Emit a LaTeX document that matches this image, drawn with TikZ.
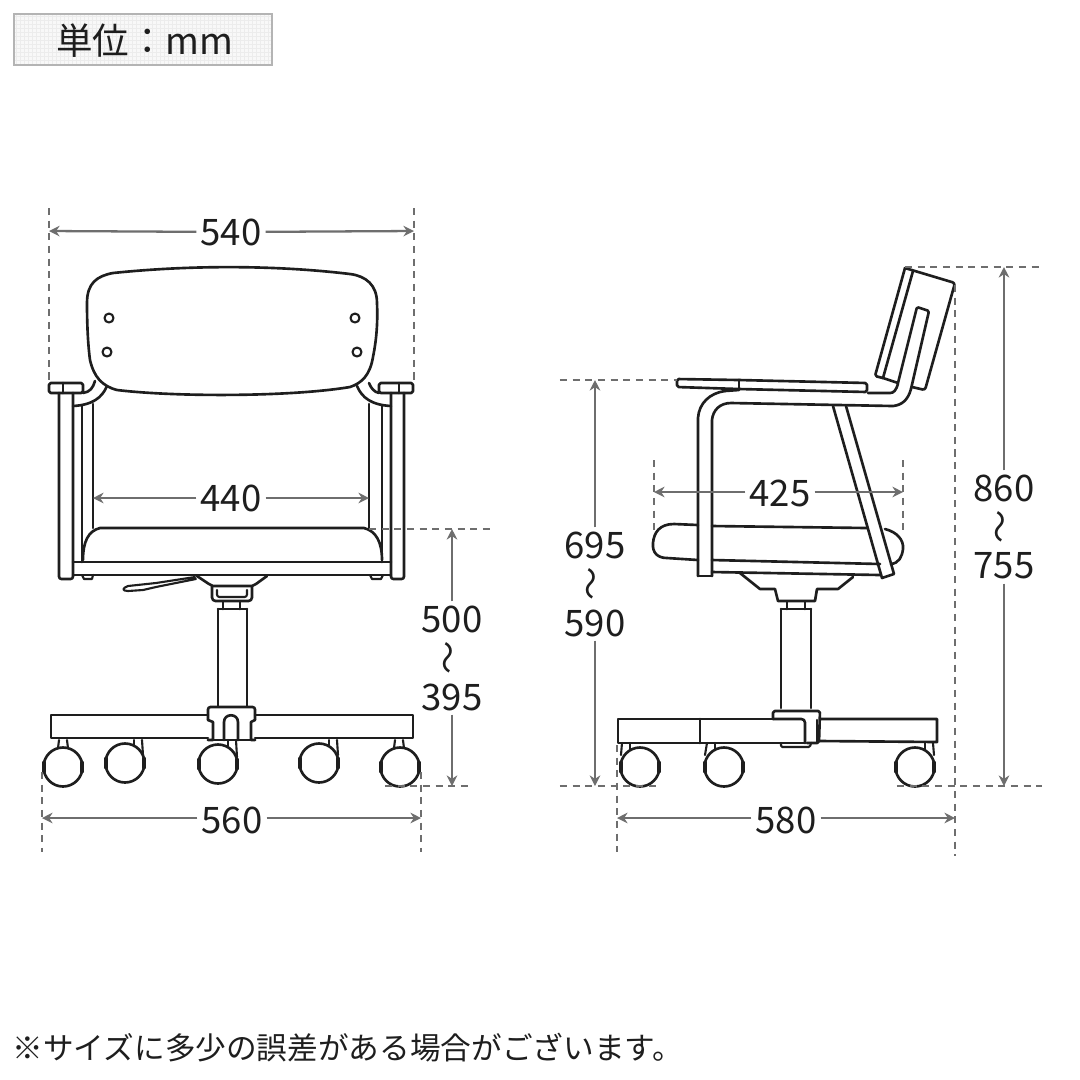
\documentclass[tikz,border=0pt]{standalone}
\usepackage{fontspec}
\setmainfont{Noto Sans CJK JP}
\usetikzlibrary{arrows.meta}
\definecolor{ink}{HTML}{1E1E1E}
\definecolor{dimgray}{HTML}{6E6E6E}
\definecolor{boxline}{HTML}{B4B4B4}
\definecolor{boxfill}{HTML}{F8F8F8}
\definecolor{boxgrid}{HTML}{ECECEC}
\tikzset{
  chair/.style={draw=ink, line width=0.75pt, line join=round, line cap=round},
  thin chair/.style={draw=ink, line width=0.6pt, line join=round, line cap=round},
  tyre/.style={draw=ink, line width=1.4pt, line cap=round},
  dimline/.style={draw=dimgray, line width=0.65pt, -{Stealth[length=3pt,width=3pt]}},
  guide/.style={draw=dimgray, line width=0.55pt, dash pattern=on 2pt off 1.6pt},
  dimlab/.style={text=ink, font=\fontsize{10.4}{12}\selectfont, inner sep=1pt},
  wavelab/.style={text=ink, font=\fontsize{9.5}{11}\selectfont, inner sep=0pt, rotate=90}
}
\begin{document}
\begin{tikzpicture}[x=0.1mm,y=-0.1mm]
  \fill[white] (0,0) rectangle (1080,1080);
  \useasboundingbox (0,0) rectangle (1080,1080);

  % Unit box
  \fill[boxfill] (14,14) rectangle (272,65);
  \draw[boxgrid, line width=0.15pt, step=0.4mm] (14,14) grid (272,65);
  \draw[boxline, line width=0.7pt] (14,14) rectangle (272,65);
  \node[text=ink, font=\fontsize{10.4}{12}\selectfont, inner sep=0pt] (unitlab) at (145,41) {単位：mm};

  % Front view, back
  \draw[chair] (87,303) .. controls (87,283) and (97,276) .. (113,273)
    .. controls (190,265) and (275,265) .. (350,274)
    .. controls (366,276) and (377,285) .. (377,303)
    .. controls (378,325) and (376,342) .. (373,357)
    .. controls (370,375) and (362,383) .. (350,387)
    .. controls (290,397) and (175,397) .. (117,390)
    .. controls (102,386) and (94,377) .. (90,360)
    .. controls (88,345) and (87,325) .. (87,303) -- cycle;
  \draw[thin chair] (109,318) circle (4.5);
  \draw[thin chair] (107,352) circle (4.5);
  \draw[thin chair] (355,318) circle (4.5);
  \draw[thin chair] (357,352) circle (4.5);

  % Front view, arms and legs
  \draw[chair, rounded corners=0.5] (49,383) rectangle (83,393);
  \draw[chair] (63,383) -- (63,393);
  \draw[chair, rounded corners=0.5] (379,383) rectangle (413,393);
  \draw[chair] (399,383) -- (399,393);
  \draw[chair, rounded corners=0.7] (59,393) -- (59,579) -- (73,579) -- (73,393);
  \draw[chair, rounded corners=0.7] (391,393) -- (391,579) -- (404,579) -- (404,393);
  \draw[chair] (95,381) .. controls (93,388) and (90,392) .. (83,393);
  \draw[chair] (107,386) .. controls (102,398) and (92,405) .. (73,406);
  \draw[chair] (369,383) .. controls (371,388) and (374,392) .. (379,393);
  \draw[chair] (357,386) .. controls (362,398) and (372,405) .. (391,406);
  \draw[chair] (82,406) -- (82,562);
  \draw[chair] (93,404) -- (93,528);
  \draw[chair] (369,404) -- (369,528);
  \draw[chair] (382,406) -- (382,562);

  % Front view, seat
  \draw[chair] (83,560) .. controls (83,542) and (88,531) .. (100,528) -- (364,528)
    .. controls (376,531) and (382,542) .. (382,560);
  \draw[chair] (73,562) -- (391,562);
  \draw[chair] (73,575) -- (391,575);
  \draw[thin chair] (82,575) -- (84,579) -- (92,579) -- (93,575);
  \draw[thin chair] (370,575) -- (372,579) -- (381,579) -- (383,575);

  % Front view, lever and mechanism
  \draw[thin chair] (195,577) -- (156,583) -- (128,586) .. controls (122,588) and (122,591) .. (128,591)
    -- (143,590) -- (156,587) -- (196,579);
  \draw[chair] (197,576) -- (209,584) -- (213,586) -- (252,586) -- (256,584) -- (267,576);
  \draw[chair, rounded corners=1] (212,586) -- (212,601) -- (252,601) -- (252,586);
  \draw[thin chair, rounded corners=0.7] (217,590) -- (217,597) -- (247,597) -- (247,590);
  \draw[chair] (223,602) -- (223,609);
  \draw[chair] (240,602) -- (240,609);
  \draw[chair] (218,609) -- (247,609);
  \draw[chair] (218,609) -- (218,706);
  \draw[chair] (247,609) -- (247,706);

  % Front view, base
  \draw[chair] (208,715) -- (51,715) -- (51,738) -- (208,738);
  \draw[chair] (255,715) -- (413,715) -- (413,738) -- (255,738);
  \draw[chair, rounded corners=0.7] (208,720) -- (208,707) -- (255,707) -- (255,720);
  \draw[chair] (208,720) -- (213,722) -- (213,740) -- (208,740);
  \draw[chair] (255,720) -- (251,722) -- (251,740) -- (255,740);
  \draw[chair] (208,740) -- (255,740);
  \draw[chair] (224,740) -- (224,722) .. controls (224,713) and (238,713) .. (238,722) -- (238,740);

  % Front view, casters
  \draw[thin chair] (59,740) -- (58,748);
  \draw[thin chair] (67,740) -- (68,748);
  \draw[thin chair] (134,740) -- (134,746);
  \draw[thin chair] (142,740) -- (143,755);
  \draw[thin chair] (228,740) -- (228,746);
  \draw[thin chair] (236,740) -- (237,757);
  \draw[thin chair] (329,740) -- (329,746);
  \draw[thin chair] (337,740) -- (338,755);
  \draw[thin chair] (395,740) -- (394,748);
  \draw[thin chair] (403,740) -- (404,748);
  \draw[chair] (63,767) circle (19.5);
  \draw[chair] (125,763) circle (19.5);
  \draw[chair] (218,764) circle (19.5);
  \draw[chair] (319,763) circle (19.5);
  \draw[chair] (400,767) circle (19.5);
  \draw[tyre] (44,763) -- (44,771);
  \draw[tyre] (82,763) -- (82,771);
  \draw[tyre] (106,759) -- (106,767);
  \draw[tyre] (144,759) -- (144,767);
  \draw[tyre] (199,760) -- (199,768);
  \draw[tyre] (237,760) -- (237,768);
  \draw[tyre] (300,759) -- (300,767);
  \draw[tyre] (338,759) -- (338,767);
  \draw[tyre] (381,763) -- (381,771);
  \draw[tyre] (419,763) -- (419,771);

  % Side view, back
  \draw[chair, rounded corners=0.7] (905,268) -- (955,283) -- (925,390) -- (912,387);
  \draw[chair, rounded corners=0.5] (905,268) -- (875,376) -- (883,378);
  \draw[chair] (913,271) -- (883,378) -- (898,383);
  \draw[chair, rounded corners=0.4] (898,383) -- (917,307) -- (929,311) -- (911,389);

  % Side view, arm and tube
  \draw[chair, rounded corners=0.5] (739,380) -- (677,379) -- (677,387) -- (739,389);
  \draw[chair] (739,380) -- (739,389);
  \draw[chair, rounded corners=0.5] (739,380) -- (867,383) -- (867,392) -- (739,389);
  \draw[chair] (698,576) -- (698,418) .. controls (699,403) and (710,393) .. (725,391);
  \draw[chair] (725,391) -- (739,390);
  \draw[chair] (868,393) -- (890,393) .. controls (894,393) and (896,390) .. (898,384);
  \draw[chair] (712,576) -- (712,420) .. controls (713,410) and (720,403) .. (731,403)
    -- (893,406) .. controls (902,405) and (908,400) .. (911,389);
  \draw[chair] (698,576) -- (712,576);

  % Side view, strut
  \draw[chair] (833,406) -- (882,578) -- (894,574) -- (846,406);

  % Side view, seat
  \draw[chair] (698,525) -- (674,524) .. controls (660,524) and (654,532) .. (653,543)
    .. controls (652,553) and (658,558) .. (667,558) -- (698,560);
  \draw[chair] (712,526) -- (867,528);
  \draw[chair] (712,560) -- (880,564);
  \draw[chair] (712,572) -- (880,575);
  \draw[chair] (885,529) .. controls (897,532) and (904,540) .. (903,549)
    .. controls (902,557) and (899,563) .. (891,564);

  % Side view, mechanism and column
  \draw[chair] (740,573) -- (760,589) -- (775,589) -- (778,601) -- (815,601) -- (817,589)
    -- (838,589) -- (853,577);
  \draw[chair] (787,602) -- (787,609);
  \draw[chair] (805,602) -- (805,609);
  \draw[chair] (781,609) -- (811,609);
  \draw[chair] (781,609) -- (781,708);
  \draw[chair] (811,609) -- (811,708);

  % Side view, base
  \draw[chair] (773,719) -- (618,719) -- (618,743) -- (773,743);
  \draw[chair] (700,719) -- (700,743);
  \draw[chair] (820,719) -- (937,719) -- (937,742) -- (820,741);
  \draw[chair, rounded corners=0.5] (773,719) -- (773,711) -- (820,711) -- (819,743) -- (807,743);
  \draw[chair, rounded corners=1] (773,719) -- (805,719) -- (805,743);
  \draw[chair] (817,720) -- (817,742);
  \draw[chair] (773,743) -- (805,743);
  \draw[thin chair, rounded corners=0.4] (781,743) -- (781,747) -- (810,747) -- (811,743);

  % Side view, casters
  \draw[thin chair] (622,743) -- (621,755);
  \draw[thin chair] (630,743) -- (630,750);
  \draw[thin chair] (707,743) -- (705,755);
  \draw[thin chair] (715,743) -- (715,750);
  \draw[thin chair] (925,743) -- (925,750);
  \draw[thin chair] (933,743) -- (934,755);
  \draw[chair] (640,767) circle (19.5);
  \draw[chair] (724,767) circle (19.5);
  \draw[chair] (915,767) circle (19.5);
  \draw[tyre] (621,763) -- (621,771);
  \draw[tyre] (659,763) -- (659,771);
  \draw[tyre] (705,763) -- (705,771);
  \draw[tyre] (743,763) -- (743,771);
  \draw[tyre] (896,763) -- (896,771);
  \draw[tyre] (934,763) -- (934,771);

  % Guides
  \draw[guide] (49,208) -- (49,383);
  \draw[guide] (414,208) -- (414,383);
  \draw[guide] (369,529) -- (495,529);
  \draw[guide] (385,786) -- (468,786);
  \draw[guide] (42,772) -- (42,852);
  \draw[guide] (421,772) -- (421,852);
  \draw[guide] (560,380) -- (677,380);
  \draw[guide] (560,786) -- (658,786);
  \draw[guide] (897,786) -- (1042,786);
  \draw[guide] (905,267) -- (1042,267);
  \draw[guide] (654,460) -- (654,535);
  \draw[guide] (903,460) -- (903,535);
  \draw[guide] (617,745) -- (617,852);
  \draw[guide] (955,285) -- (955,856);

  % Front dimensions
  \node[dimlab] (w540) at (231,232) {540};
  \coordinate (w540l) at (49,231);
  \coordinate (w540r) at (414,231);
  \draw[dimline] (w540) -- (w540l);
  \draw[dimline] (w540) -- (w540r);

  \node[dimlab] (w440) at (231,498) {440};
  \coordinate (w440l) at (93,498);
  \coordinate (w440r) at (369,498);
  \draw[dimline] (w440) -- (w440l);
  \draw[dimline] (w440) -- (w440r);

  \node[dimlab] (w560) at (232,820) {560};
  \coordinate (w560l) at (42,818);
  \coordinate (w560r) at (421,818);
  \draw[dimline] (w560.west |- w560l) -- (w560l);
  \draw[dimline] (w560.east |- w560r) -- (w560r);

  \node[dimlab] (h500) at (452,619) {500};
  \node[wavelab] (h500w) at (452,658) {〜};
  \node[dimlab] (h395) at (452,697) {395};
  \coordinate (h500t) at (452,529);
  \coordinate (h395b) at (452,786);
  \draw[dimline] (h500) -- (h500t);
  \draw[dimline] (h395) -- (h395b);

  % Side dimensions
  \node[dimlab] (w425) at (780,493) {425};
  \coordinate (w425l) at (654,492);
  \coordinate (w425r) at (903,492);
  \draw[dimline] (w425.west |- w425l) -- (w425l);
  \draw[dimline] (w425.east |- w425r) -- (w425r);

  \node[dimlab] (w580) at (786,820) {580};
  \coordinate (w580l) at (617,818);
  \coordinate (w580r) at (955,818);
  \draw[dimline] (w580.west |- w580l) -- (w580l);
  \draw[dimline] (w580.east |- w580r) -- (w580r);

  \node[dimlab] (h695) at (595,545) {695};
  \node[wavelab] (h695w) at (595,584) {〜};
  \node[dimlab] (h590) at (595,623) {590};
  \coordinate (h695t) at (595,380);
  \coordinate (h590b) at (595,786);
  \draw[dimline] (h695) -- (h695t);
  \draw[dimline] (h590) -- (h590b);

  \node[dimlab] (h860) at (1004,488) {860};
  \node[wavelab] (h860w) at (1004,527) {〜};
  \node[dimlab] (h755) at (1004,566) {755};
  \coordinate (h860t) at (1004,267);
  \coordinate (h755b) at (1004,786);
  \draw[dimline] (h860) -- (h860t);
  \draw[dimline] (h755) -- (h755b);

  % Note
  \node[text=ink, font=\fontsize{8.72}{10}\selectfont, inner sep=0pt, anchor=west] (note) at (12,1048)
    {※サイズに多少の誤差がある場合がございます。};
\end{tikzpicture}
\end{document}
